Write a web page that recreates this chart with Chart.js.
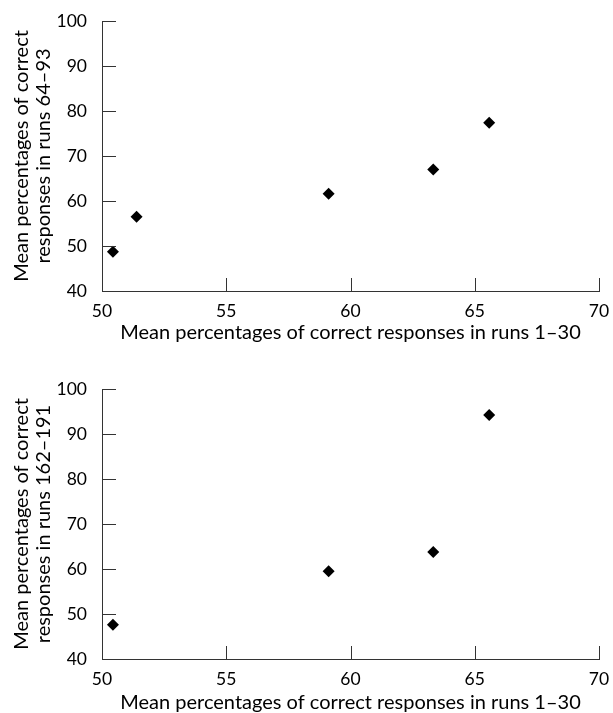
<!DOCTYPE html>
<html>
<head>
<meta charset="utf-8">
<script src="https://cdn.jsdelivr.net/npm/chart.js@4"></script>
<style>
  html, body { margin: 0; padding: 0; background: #fff; }
  .box { position: relative; width: 613px; }
  #top { height: 350px; }
  #bottom { height: 363px; }
</style>
</head>
<body>
<div class="box" id="top"><canvas id="chartTop"></canvas></div>
<div class="box" id="bottom"><canvas id="chartBottom"></canvas></div>
<script>
//Data
const xTop = [50.44, 51.39, 59.12, 63.33, 65.58];
const yTop = [48.7, 56.5, 61.6, 67.0, 77.4];
const xBottom = [50.44, 59.12, 63.33, 65.58];
const yBottom = [47.6, 59.5, 63.8, 94.2];
const xTicks = [50, 55, 60, 65, 70];
const yTicks = [40, 50, 60, 70, 80, 90, 100];
const xTitle = 'Mean percentages of correct responses in runs 1\u201330';
const yTitleTop = ['Mean percentages of correct', 'responses in runs 64\u201393'];
const yTitleBottom = ['Mean percentages of correct', 'responses in runs 162\u2013191'];

const FONT = 'Lato, "Open Sans", sans-serif';
const AXIS = '#333';

//Ticks point inward in the reference
const inwardTicks = {
    id: 'inwardTicks',
    afterDraw(chart) {
        const ctx = chart.ctx;
        const x = chart.scales.x, y = chart.scales.y;
        ctx.save();
        ctx.strokeStyle = AXIS;
        ctx.lineWidth = 1;
        ctx.beginPath();
        x.ticks.forEach(t => {
            const px = Math.round(x.getPixelForValue(t.value)) + 0.5;
            ctx.moveTo(px, y.bottom);
            ctx.lineTo(px, y.bottom - 13);
        });
        y.ticks.forEach(t => {
            const py = Math.round(y.getPixelForValue(t.value)) + 0.5;
            ctx.moveTo(x.left, py);
            ctx.lineTo(x.left + 14, py);
        });
        ctx.stroke();
        ctx.restore();
    }
};

function makeChart(id, xs, ys, yTitle, padTop, xHeight, titlePadBottom) {
    const points = xs.map((v, i) => ({ x: v, y: ys[i] }));
    new Chart(document.getElementById(id), {
        type: 'scatter',
        data: {
            datasets: [{
                data: points,
                pointStyle: 'rectRot',
                pointRadius: 6,
                pointHoverRadius: 6,
                backgroundColor: '#000',
                borderColor: '#000',
                borderWidth: 0
            }]
        },
        options: {
            responsive: true,
            maintainAspectRatio: false,
            animation: false,
            layout: { autoPadding: false, padding: { top: padTop, right: 14, left: 0, bottom: 0 } },
            plugins: { legend: { display: false }, tooltip: { enabled: false } },
            scales: {
                x: {
                    type: 'linear',
                    min: 50, max: 70,
                    afterBuildTicks: s => { s.ticks = xTicks.map(v => ({ value: v })); },
                    afterFit: s => { s.height = xHeight; },
                    grid: { display: false },
                    border: { display: true, color: AXIS, width: 1 },
                    ticks: { color: '#000', padding: 2, font: { family: FONT, size: 17.5 } },
                    title: { display: true, text: xTitle, color: '#000', padding: { top: 4, bottom: titlePadBottom }, font: { family: FONT, size: 20, lineHeight: 1 } }
                },
                y: {
                    type: 'linear',
                    min: 40, max: 100,
                    afterBuildTicks: s => { s.ticks = yTicks.map(v => ({ value: v })); },
                    afterFit: s => { s.width = 102; },
                    grid: { display: false },
                    border: { display: true, color: AXIS, width: 1 },
                    ticks: { color: '#000', padding: 7, font: { family: FONT, size: 17.5 } },
                    title: { display: true, text: yTitle, color: '#000', padding: { top: 11, bottom: 0 }, font: { family: FONT, size: 20, lineHeight: 1.08 } }
                }
            }
        },
        plugins: [inwardTicks]
    });
}

makeChart('chartTop', xTop, yTop, yTitleTop, 21, 59, 7);
makeChart('chartBottom', xBottom, yBottom, yTitleBottom, 39, 54, 0);
</script>
</body>
</html>
